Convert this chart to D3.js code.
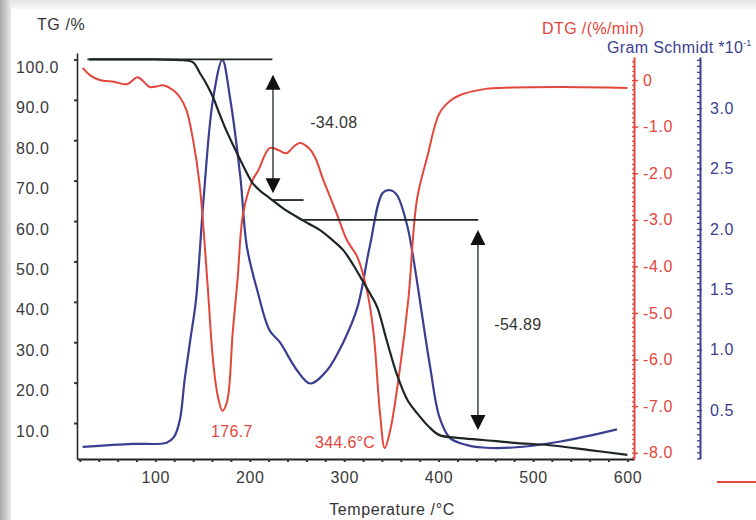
<!DOCTYPE html>
<html>
<head>
<meta charset="utf-8">
<script src="https://cdn.jsdelivr.net/npm/d3@7"></script>
<style>
body { margin: 0; background: #fff; }
svg { display: block; font-family: "Liberation Sans", Arial, sans-serif; }
</style>
</head>
<body>
<script>
// TG curve (% mass)
const tgTemp = [30, 60, 100, 130, 140, 147, 154, 161, 168, 175, 183, 190, 203, 212, 221, 235, 250, 262, 274, 287, 299, 310, 319, 328, 335, 345, 356, 367, 377, 390, 401, 420, 447, 480, 518, 560, 600];
const tgValues = [100, 100, 100, 99.8, 99.3, 96.7, 94, 90.7, 86.5, 82.5, 78.5, 75.1, 69.4, 67.3, 65.7, 63.2, 61.0, 59.4, 57.8, 55.4, 52.8, 49.0, 45.4, 41.8, 38.7, 30.5, 21.9, 15.7, 12.5, 9.0, 7.0, 6.3, 5.8, 5.1, 4.5, 3.3, 2.1];

// DTG curve (%/min)
const dtgTemp = [23, 31, 41, 57, 70, 81, 88, 94, 103, 108, 119, 126, 133, 140, 147, 155, 161, 166, 171, 176, 182, 187, 193, 203, 209, 221, 230, 239, 247, 253, 262, 269, 278, 292, 303, 314, 324, 331, 338, 343, 349, 359, 368, 377, 388, 401, 412, 423, 447, 465, 530, 600];
const dtgValues = [0.26, 0.1, 0, -0.04, -0.09, 0.06, -0.04, -0.15, -0.13, -0.11, -0.22, -0.37, -0.65, -1.29, -2.26, -4.3, -6.0, -6.77, -7.1, -6.9, -5.4, -4.3, -2.86, -2.15, -1.94, -1.46, -1.5, -1.57, -1.42, -1.35, -1.45, -1.65, -2.15, -2.86, -3.44, -3.8, -4.5, -5.4, -7.16, -7.9, -7.5, -6.2, -4.7, -2.58, -1.65, -0.71, -0.45, -0.32, -0.2, -0.17, -0.15, -0.17];

// Gram Schmidt curve
const gsTemp = [23, 76, 112, 120, 126, 131, 137, 143, 151, 161, 171, 179, 190, 197, 208, 221, 232, 250, 264, 282, 299, 314, 327, 341, 349, 356, 367, 373, 391, 401, 412, 430, 447, 479, 529, 589];
const gsValues = [0.195, 0.22, 0.23, 0.28, 0.42, 0.75, 1.08, 1.41, 2.24, 3.07, 3.40, 3.09, 2.43, 1.85, 1.49, 1.16, 1.06, 0.83, 0.72, 0.83, 1.06, 1.35, 1.85, 2.30, 2.32, 2.28, 2.02, 1.77, 0.86, 0.44, 0.27, 0.21, 0.19, 0.19, 0.24, 0.34];

// ticks
const xLabels = [100, 200, 300, 400, 500, 600];
const tgTicks = [10, 20, 30, 40, 50, 60, 70, 80, 90, 100];
const dtgTicks = [0, -1, -2, -3, -4, -5, -6, -7, -8];
const gsTicks = [0.5, 1.0, 1.5, 2.0, 2.5, 3.0];

// step lines (TG level) and mass loss arrows
const stepFrom = [28, 224, 256];
const stepTo = [224, 257, 442];
const stepLevel = [100, 65.2, 60.3];
const arrowTemp = [224.6, 441.7];
const arrowTop = [96.2, 57.8];
const arrowBottom = [66.9, 8.3];
const lossLabels = ["-34.08", "-54.89"];
const lossLabelTemp = [264, 459];
const lossLabelTG = [83, 33];

// DTG peak labels
const peakLabels = ["176.7", "344.6°C"];
const peakLabelTemp = [181, 301];
const peakLabelDTG = [-7.66, -7.89];

const W = 756, H = 520;
const red = "#e3463c", blue = "#3a3e90", dark = "#1d2525";

const svg = d3.select("body").append("svg").attr("width", W).attr("height", H);

// frame shadow from the scanned figure
const defs = svg.append("defs");
const lg = defs.append("linearGradient").attr("id", "lshade").attr("x1", 0).attr("x2", 1);
lg.append("stop").attr("offset", 0).attr("stop-color", "#a9a9a9");
lg.append("stop").attr("offset", 1).attr("stop-color", "#e9e9e9");
const tg = defs.append("linearGradient").attr("id", "tshade").attr("x1", 0).attr("x2", 0).attr("y1", 0).attr("y2", 1);
tg.append("stop").attr("offset", 0).attr("stop-color", "#e2e2e2");
tg.append("stop").attr("offset", 1).attr("stop-color", "#f8f8f8");
svg.append("rect").attr("x", 0).attr("y", 0).attr("width", W).attr("height", 9).attr("fill", "url(#tshade)");
svg.append("rect").attr("x", 0).attr("y", 0).attr("width", 11).attr("height", H).attr("fill", "url(#lshade)");

const x = d3.scaleLinear().domain([17, 607]).range([77, 634]);
const yTG = d3.scaleLinear().domain([1.09, 101.6]).range([459, 53]);
const yDTG = d3.scaleLinear().domain([-8.135, 0.495]).range([459, 57]);
const yGS = d3.scaleLinear().domain([0.095, 3.423]).range([459, 57]);

// plain hyphen instead of the unicode minus
const fmt1 = v => d3.format(".1f")(v).replace("\u2212", "-");

function styleText(sel, color) {
  sel.selectAll("text")
    .attr("fill", color)
    .style("font-size", "16px")
    .style("letter-spacing", "0.6px");
}

// x axis
const xAxis = svg.append("g").attr("transform", "translate(0,459)")
  .call(d3.axisBottom(x).tickValues(d3.range(20, 601, 20)).tickSize(3).tickSizeOuter(0).tickPadding(10)
    .tickFormat(d => xLabels.includes(d) ? d : ""));
xAxis.select(".domain").attr("stroke", "#222").attr("stroke-width", 2);
xAxis.selectAll(".tick line").attr("stroke", "#333").attr("stroke-width", 2);
styleText(xAxis, "#3a3a3a");

// TG axis
const tgAxis = svg.append("g").attr("transform", "translate(77,0)")
  .call(d3.axisLeft(yTG).tickValues(tgTicks).tickSize(3).tickSizeOuter(0).tickFormat(fmt1));
tgAxis.select(".domain").attr("stroke", "#2a2a2a").attr("stroke-width", 1.6);
tgAxis.selectAll(".tick line").attr("stroke", "#333").attr("stroke-width", 2);
tgAxis.selectAll("text").attr("x", -61).attr("y", 8).attr("text-anchor", "start");
styleText(tgAxis, "#3a3a3a");

// DTG axis
const dtgMinor = svg.append("g").attr("transform", "translate(634,0)")
  .call(d3.axisLeft(yDTG).tickValues(d3.range(-81, 5, 1).map(d => d / 10)).tickSize(2).tickSizeOuter(0).tickFormat(""));
dtgMinor.select(".domain").remove();
dtgMinor.selectAll(".tick line").attr("stroke", red).attr("stroke-width", 1.2);
const dtgAxis = svg.append("g").attr("transform", "translate(634,0)")
  .call(d3.axisRight(yDTG).tickValues(dtgTicks).tickSize(4).tickSizeOuter(0).tickPadding(5)
    .tickFormat(d => d === 0 ? "0" : fmt1(d)));
dtgAxis.select(".domain").attr("stroke", red).attr("stroke-width", 2);
dtgAxis.selectAll(".tick line").attr("stroke", red).attr("stroke-width", 1.5);
styleText(dtgAxis, red);

// Gram Schmidt axis
const gsMinor = svg.append("g").attr("transform", "translate(700,0)")
  .call(d3.axisLeft(yGS).tickValues(d3.range(2, 69, 1).map(d => d * 0.05)).tickSize(3).tickSizeOuter(0).tickFormat(""));
gsMinor.select(".domain").remove();
gsMinor.selectAll(".tick line").attr("stroke", blue).attr("stroke-width", 1.3);
const gsAxis = svg.append("g").attr("transform", "translate(700,0)")
  .call(d3.axisRight(yGS).tickValues(gsTicks).tickSize(2).tickSizeOuter(0).tickPadding(8).tickFormat(fmt1));
gsAxis.select(".domain").attr("stroke", blue).attr("stroke-width", 2);
gsAxis.selectAll(".tick line").attr("stroke", blue);
styleText(gsAxis, blue);

// curves
const curve = d3.curveCatmullRom.alpha(0.5);
const lineTG = d3.line().x((d, i) => x(tgTemp[i])).y(d => yTG(d)).curve(curve);
const lineDTG = d3.line().x((d, i) => x(dtgTemp[i])).y(d => yDTG(d)).curve(curve);
const lineGS = d3.line().x((d, i) => x(gsTemp[i])).y(d => yGS(d)).curve(curve);

svg.append("path").attr("d", lineGS(gsValues)).attr("fill", "none").attr("stroke", blue).attr("stroke-width", 2.2);
svg.append("path").attr("d", lineDTG(dtgValues)).attr("fill", "none").attr("stroke", red).attr("stroke-width", 2);

// step lines
stepLevel.forEach((v, i) => {
  svg.append("line")
    .attr("x1", x(stepFrom[i])).attr("x2", x(stepTo[i]))
    .attr("y1", yTG(v)).attr("y2", yTG(v))
    .attr("stroke", dark).attr("stroke-width", 1.8);
});

svg.append("path").attr("d", lineTG(tgValues)).attr("fill", "none").attr("stroke", dark).attr("stroke-width", 2.2);

// arrows
arrowTemp.forEach((t, i) => {
  const ax = x(t), y1 = yTG(arrowTop[i]), y2 = yTG(arrowBottom[i]);
  svg.append("line").attr("x1", ax).attr("x2", ax).attr("y1", y1 + 10).attr("y2", y2 - 10)
    .attr("stroke", dark).attr("stroke-width", 1.3);
  svg.append("path").attr("d", `M${ax},${y1} L${ax - 7.5},${y1 + 15} L${ax + 7.5},${y1 + 15} Z`).attr("fill", "#111");
  svg.append("path").attr("d", `M${ax},${y2} L${ax - 7.5},${y2 - 15} L${ax + 7.5},${y2 - 15} Z`).attr("fill", "#111");
  svg.append("text").attr("x", x(lossLabelTemp[i])).attr("y", yTG(lossLabelTG[i]))
    .attr("fill", "#333").style("font-size", "16px").style("letter-spacing", "0.3px").text(lossLabels[i]);
});

// peak labels
peakLabels.forEach((s, i) => {
  svg.append("text").attr("x", x(peakLabelTemp[i])).attr("y", yDTG(peakLabelDTG[i]))
    .attr("text-anchor", "middle").attr("fill", red)
    .style("font-size", "16px").style("letter-spacing", "0.3px").text(s);
});

// axis titles
svg.append("text").attr("x", 37).attr("y", 30).attr("fill", "#333")
  .style("font-size", "16px").style("letter-spacing", "0.6px").text("TG /%");
svg.append("text").attr("x", 542).attr("y", 34).attr("fill", red)
  .style("font-size", "16px").style("letter-spacing", "0.4px").text("DTG /(%/min)");
const gsTitle = svg.append("text").attr("x", 607).attr("y", 53).attr("fill", blue)
  .style("font-size", "16px").style("letter-spacing", "0.35px");
gsTitle.append("tspan").text("Gram Schmidt *10");
gsTitle.append("tspan").attr("dy", -7).style("font-size", "9px").style("letter-spacing", "0px").text("-1");
svg.append("text").attr("x", 392).attr("y", 515).attr("text-anchor", "middle").attr("fill", "#333")
  .style("font-size", "16px").style("letter-spacing", "0.6px").text("Temperature /°C");

// legend stub at the right edge
svg.append("line").attr("x1", 717).attr("x2", W).attr("y1", 482).attr("y2", 482)
  .attr("stroke", red).attr("stroke-width", 2);
</script>
</body>
</html>
